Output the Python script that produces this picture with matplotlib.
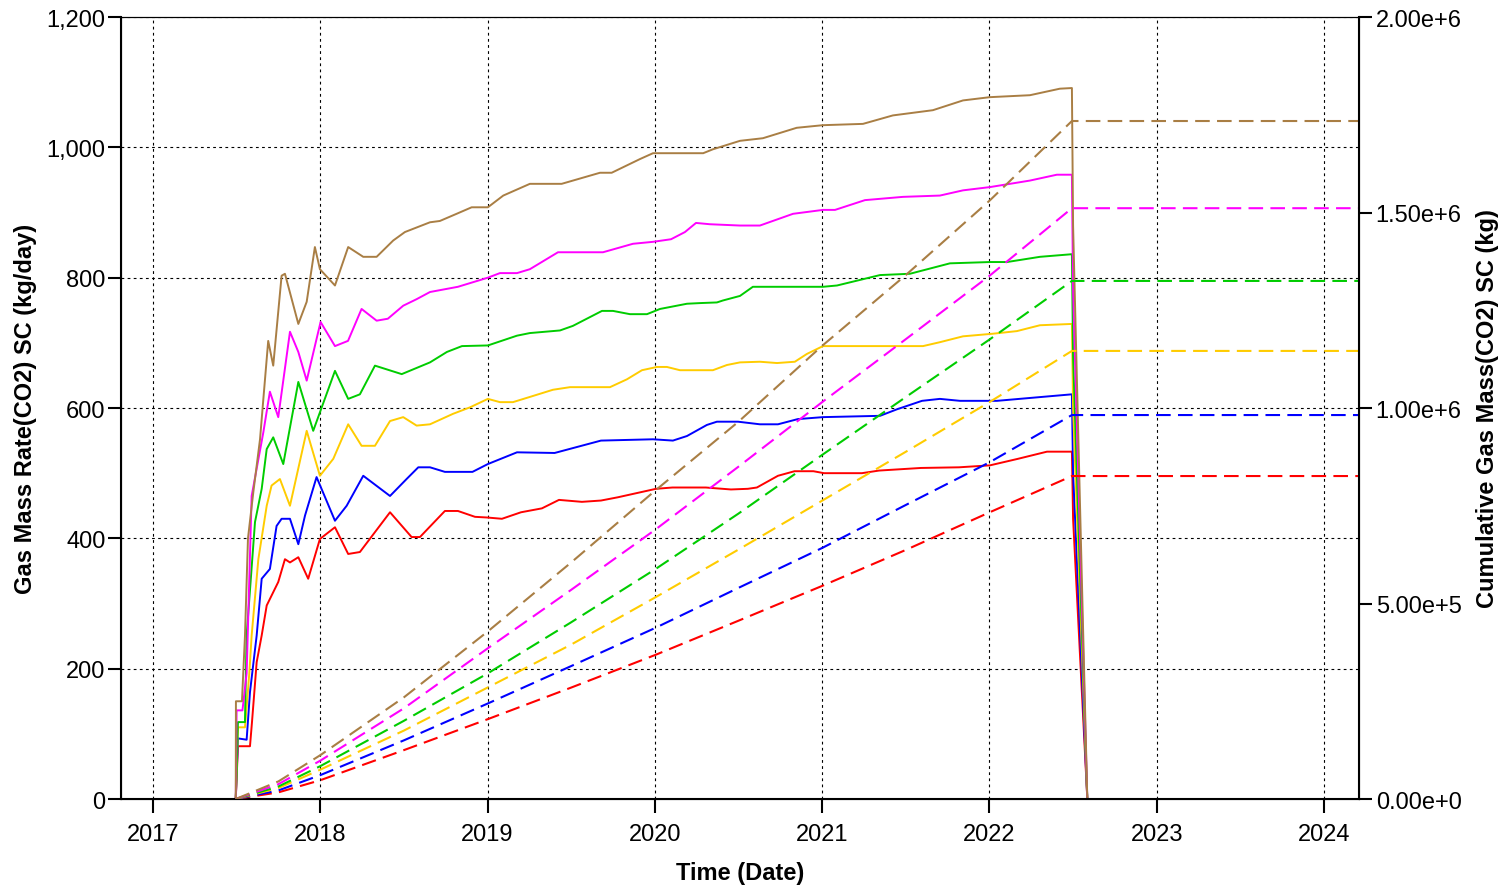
import matplotlib
matplotlib.use("Agg")
import matplotlib.pyplot as plt
from matplotlib.ticker import FuncFormatter

plt.rcParams['font.family'] = ['Liberation Sans', 'DejaVu Sans']

# gas mass rate (kg/day), one (time, value) pair of lists per well
brown_t = [2017.495, 2017.496, 2017.532, 2017.550, 2017.568, 2017.600, 2017.640, 2017.660, 2017.689, 2017.719,
           2017.769, 2017.789, 2017.869, 2017.919, 2017.968, 2017.998, 2018.088, 2018.167, 2018.257, 2018.337,
           2018.436, 2018.506, 2018.656, 2018.715, 2018.815, 2018.905, 2019.002, 2019.094, 2019.253, 2019.443,
           2019.672, 2019.742, 2019.911, 2019.989, 2020.289, 2020.347, 2020.509, 2020.646, 2020.848, 2021.005,
           2021.244, 2021.423, 2021.662, 2021.842, 2022.003, 2022.242, 2022.421, 2022.493, 2022.500, 2022.585,
           2024.21]
brown_v = [0, 150, 150, 250, 400, 471, 552, 614, 703, 665,
           803, 806, 729, 763, 847, 813, 788, 847, 832, 832,
           857, 870, 885, 887, 898, 908, 908, 926, 944, 944,
           961, 961, 982, 991, 991, 997, 1010, 1014, 1030, 1034,
           1036, 1049, 1057, 1072, 1077, 1080, 1090, 1091, 880, 0,
           0]

magenta_t = [2017.495, 2017.500, 2017.535, 2017.560, 2017.590, 2017.660, 2017.699, 2017.749, 2017.819, 2017.869,
             2017.919, 2018.002, 2018.088, 2018.166, 2018.247, 2018.337, 2018.404, 2018.496, 2018.576, 2018.656,
             2018.823, 2019.002, 2019.074, 2019.176, 2019.253, 2019.421, 2019.690, 2019.869, 2019.989, 2020.097,
             2020.180, 2020.246, 2020.329, 2020.509, 2020.628, 2020.826, 2021.005, 2021.077, 2021.256, 2021.483,
             2021.704, 2021.842, 2022.003, 2022.242, 2022.403, 2022.493, 2022.500, 2022.585, 2024.21]
magenta_v = [0, 136, 136, 193, 465, 563, 625, 586, 717, 686,
             642, 732, 695, 703, 752, 734, 737, 757, 767, 778,
             786, 800, 807, 807, 813, 839, 839, 852, 855, 859,
             870, 884, 882, 880, 880, 898, 904, 904, 919, 924,
             926, 934, 939, 949, 958, 958, 780, 0, 0]

green_t = [2017.495, 2017.508, 2017.550, 2017.560, 2017.610, 2017.650, 2017.680, 2017.719, 2017.779, 2017.869,
           2017.958, 2018.088, 2018.167, 2018.237, 2018.327, 2018.487, 2018.656, 2018.757, 2018.847, 2019.002,
           2019.176, 2019.253, 2019.433, 2019.510, 2019.684, 2019.750, 2019.851, 2019.953, 2020.031, 2020.192,
           2020.270, 2020.371, 2020.407, 2020.509, 2020.586, 2021.005, 2021.089, 2021.346, 2021.525, 2021.764,
           2022.003, 2022.105, 2022.302, 2022.493, 2022.500, 2022.585, 2024.21]
green_v = [0, 118, 118, 251, 425, 476, 537, 555, 514, 640,
           565, 657, 614, 621, 665, 652, 670, 686, 695, 696,
           711, 715, 719, 726, 749, 749, 744, 744, 752, 760,
           761, 762, 765, 772, 786, 786, 788, 804, 806, 822,
           824, 824, 832, 836, 680, 0, 0]

yellow_t = [2017.495, 2017.508, 2017.550, 2017.576, 2017.590, 2017.630, 2017.680, 2017.709, 2017.759, 2017.819,
            2017.919, 2017.998, 2018.078, 2018.167, 2018.247, 2018.327, 2018.417, 2018.496, 2018.576, 2018.656,
            2018.793, 2018.895, 2019.002, 2019.074, 2019.152, 2019.253, 2019.391, 2019.493, 2019.732, 2019.833,
            2019.923, 2020.013, 2020.072, 2020.150, 2020.347, 2020.431, 2020.509, 2020.628, 2020.730, 2020.837,
            2020.909, 2021.005, 2021.603, 2021.704, 2021.842, 2022.021, 2022.164, 2022.302, 2022.493, 2022.500,
            2022.585, 2024.21]
yellow_v = [0, 110, 110, 193, 251, 368, 450, 481, 491, 450,
            565, 496, 522, 575, 542, 542, 580, 586, 573, 575,
            591, 601, 614, 609, 609, 617, 628, 632, 632, 644,
            658, 663, 663, 658, 658, 666, 670, 671, 669, 671,
            683, 695, 695, 701, 710, 714, 718, 727, 729, 600,
            0, 0]

blue_t = [2017.495, 2017.508, 2017.560, 2017.580, 2017.620, 2017.650, 2017.699, 2017.739, 2017.769, 2017.819,
          2017.869, 2017.909, 2017.978, 2018.088, 2018.158, 2018.257, 2018.417, 2018.516, 2018.586, 2018.656,
          2018.745, 2018.910, 2019.002, 2019.176, 2019.401, 2019.678, 2019.989, 2020.108, 2020.192, 2020.311,
          2020.371, 2020.497, 2020.628, 2020.736, 2020.855, 2021.005, 2021.346, 2021.447, 2021.597, 2021.704,
          2021.824, 2022.045, 2022.224, 2022.493, 2022.500, 2022.585, 2024.21]
blue_v = [0, 93, 91, 164, 251, 338, 353, 419, 430, 430,
          391, 435, 494, 427, 450, 496, 465, 491, 509, 509,
          502, 502, 514, 532, 531, 550, 552, 550, 557, 574,
          579, 579, 575, 575, 583, 586, 588, 598, 611, 614,
          611, 611, 615, 621, 500, 0, 0]

red_t = [2017.495, 2017.508, 2017.580, 2017.592, 2017.620, 2017.650, 2017.680, 2017.749, 2017.789, 2017.819,
         2017.869, 2017.928, 2017.998, 2018.088, 2018.167, 2018.237, 2018.417, 2018.546, 2018.596, 2018.745,
         2018.823, 2018.925, 2018.996, 2019.086, 2019.200, 2019.325, 2019.427, 2019.564, 2019.678, 2019.779,
         2020.007, 2020.105, 2020.305, 2020.455, 2020.556, 2020.610, 2020.736, 2020.835, 2020.948, 2021.011,
         2021.238, 2021.340, 2021.591, 2021.818, 2022.003, 2022.170, 2022.344, 2022.493, 2022.500, 2022.585,
         2024.21]
red_v = [0, 81, 81, 118, 210, 251, 297, 333, 368, 363,
         371, 338, 399, 417, 376, 379, 440, 402, 402, 442,
         442, 433, 432, 430, 440, 446, 459, 456, 458, 463,
         476, 478, 478, 475, 476, 478, 496, 503, 503, 500,
         500, 504, 508, 509, 512, 522, 533, 533, 430, 0,
         0]

# cumulative gas mass (kg)
cum_t = [2017.495, 2017.75, 2018.0, 2018.5, 2019.0, 2019.5, 2020.0, 2020.5, 2021.0, 2021.5, 2022.0, 2022.493, 2024.21]
cum_brown = [0, 45e3, 112e3, 260e3, 428e3, 605e3, 788e3, 965e3, 1159e3, 1340e3, 1530e3, 1734e3, 1734e3]
cum_magenta = [0, 38e3, 98e3, 232e3, 385e3, 535e3, 688e3, 850e3, 1015e3, 1176e3, 1338e3, 1511e3, 1511e3]
cum_green = [0, 32e3, 84e3, 200e3, 321e3, 452e3, 587e3, 730e3, 880e3, 1028e3, 1175e3, 1325e3, 1325e3]
cum_yellow = [0, 28e3, 75e3, 175e3, 285e3, 395e3, 515e3, 638e3, 763e3, 888e3, 1015e3, 1146e3, 1146e3]
cum_blue = [0, 22e3, 61e3, 150e3, 244e3, 340e3, 437e3, 540e3, 642e3, 752e3, 861e3, 982e3, 982e3]
cum_red = [0, 17e3, 48e3, 125e3, 204e3, 285e3, 368e3, 456e3, 545e3, 637e3, 733e3, 826e3, 826e3]

years = [2017, 2018, 2019, 2020, 2021, 2022, 2023, 2024]

c_brown = '#A97E44'
c_magenta = '#FF00FF'
c_green = '#00CC00'
c_yellow = '#FFCC00'
c_blue = '#0000FF'
c_red = '#FF0000'

fig = plt.figure(figsize=(15.01, 8.87), dpi=100)
ax = fig.add_axes([0.08061, 0.09808, 0.82478, 0.88162])
ax2 = ax.twinx()

rates = [(red_t, red_v, c_red), (blue_t, blue_v, c_blue), (yellow_t, yellow_v, c_yellow),
         (green_t, green_v, c_green), (magenta_t, magenta_v, c_magenta), (brown_t, brown_v, c_brown)]
for t, v, c in rates:
    ax.plot(t, v, color=c, lw=1.4)

cums = [cum_red, cum_blue, cum_yellow, cum_green, cum_magenta, cum_brown]
cols = [c_red, c_blue, c_yellow, c_green, c_magenta, c_brown]
for v, c in zip(cums, cols):
    ax2.plot(cum_t, v, color=c, lw=1.5, linestyle=(0, (7, 3.5)))

ax.set_xlim(2016.809, 2024.209)
ax.set_ylim(0, 1200)
ax2.set_ylim(0, 2e6)
ax.set_xticks(years)
ax.set_xticklabels([str(y) for y in years])
ax.set_yticks(range(0, 1201, 200))
ax.yaxis.set_major_formatter(FuncFormatter(lambda v, p: f"{int(v):,}"))
ax2.set_yticks([0, 5e5, 1e6, 1.5e6, 2e6])


def sci(v, p):
    if v == 0:
        return "0.00e+0"
    s = f"{v:.2e}"
    m, e = s.split("e")
    return f"{m}e+{int(e)}"


ax2.yaxis.set_major_formatter(FuncFormatter(sci))

ax.grid(True, color='black', linestyle=(0, (2.5, 3)), linewidth=0.8)

ax.tick_params(axis='x', direction='out', length=10, width=1.5, labelsize=17, pad=7)
ax.tick_params(axis='y', direction='out', length=9.5, width=1.5, labelsize=17, pad=1.5)
ax2.tick_params(axis='y', direction='out', length=9.5, width=1.5, labelsize=17, pad=2.5)

for s in ['left', 'bottom']:
    ax.spines[s].set_linewidth(1.5)
ax2.spines['right'].set_linewidth(1.5)
ax.spines['top'].set_linewidth(0.8)
ax2.spines['top'].set_linewidth(0.8)

ax.set_xlabel("Time (Date)", fontsize=17, fontweight='bold', labelpad=12)
ax.set_ylabel("Gas Mass Rate(CO2) SC (kg/day)", fontsize=17, fontweight='bold', labelpad=7)
ax2.set_ylabel("Cumulative Gas Mass(CO2) SC (kg)", fontsize=17, fontweight='bold', labelpad=10)

plt.savefig("out.png", dpi=100)
